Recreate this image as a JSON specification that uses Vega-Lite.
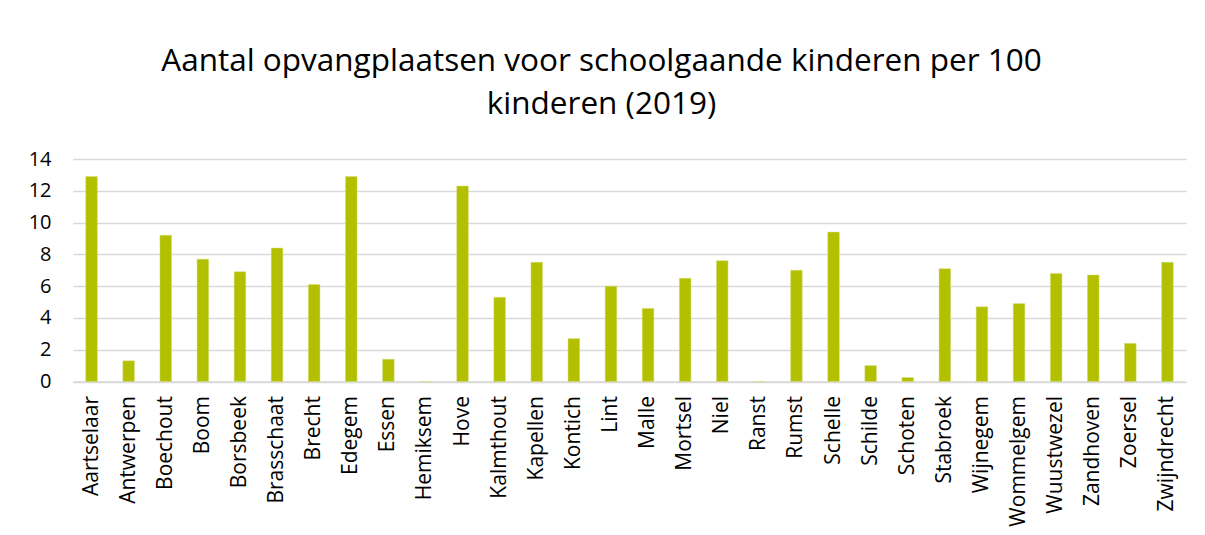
{
  "$schema": "https://vega.github.io/schema/vega-lite/v6.json",
  "autosize": {"type": "none"},
  "padding": {"left": 73, "top": 159, "right": 19, "bottom": 153.5},
  "width": 1113,
  "height": 222.5,
  "background": "white",
  "title": {
    "text": ["Aantal opvangplaatsen voor schoolgaande kinderen per 100", "kinderen (2019)"],
    "font": "Open Sans",
    "fontSize": 31.5,
    "fontWeight": "normal",
    "color": "#000000",
    "lineHeight": 43,
    "anchor": "middle",
    "dx": -28,
    "offset": 29
  },
  "data": {
    "values": [
      {"gemeente": "Aartselaar", "waarde": 12.9},
      {"gemeente": "Antwerpen", "waarde": 1.3},
      {"gemeente": "Boechout", "waarde": 9.2},
      {"gemeente": "Boom", "waarde": 7.7},
      {"gemeente": "Borsbeek", "waarde": 6.9},
      {"gemeente": "Brasschaat", "waarde": 8.4},
      {"gemeente": "Brecht", "waarde": 6.1},
      {"gemeente": "Edegem", "waarde": 12.9},
      {"gemeente": "Essen", "waarde": 1.4},
      {"gemeente": "Hemiksem", "waarde": 0},
      {"gemeente": "Hove", "waarde": 12.3},
      {"gemeente": "Kalmthout", "waarde": 5.3},
      {"gemeente": "Kapellen", "waarde": 7.5},
      {"gemeente": "Kontich", "waarde": 2.7},
      {"gemeente": "Lint", "waarde": 6.0},
      {"gemeente": "Malle", "waarde": 4.6},
      {"gemeente": "Mortsel", "waarde": 6.5},
      {"gemeente": "Niel", "waarde": 7.6},
      {"gemeente": "Ranst", "waarde": 0},
      {"gemeente": "Rumst", "waarde": 7.0},
      {"gemeente": "Schelle", "waarde": 9.4},
      {"gemeente": "Schilde", "waarde": 1.0},
      {"gemeente": "Schoten", "waarde": 0.25},
      {"gemeente": "Stabroek", "waarde": 7.1},
      {"gemeente": "Wijnegem", "waarde": 4.7},
      {"gemeente": "Wommelgem", "waarde": 4.9},
      {"gemeente": "Wuustwezel", "waarde": 6.8},
      {"gemeente": "Zandhoven", "waarde": 6.7},
      {"gemeente": "Zoersel", "waarde": 2.4},
      {"gemeente": "Zwijndrecht", "waarde": 7.5}
    ]
  },
  "mark": {"type": "bar", "color": "#b3c000", "stroke": "#d4de7a", "strokeWidth": 0.5},
  "encoding": {
    "x": {
      "field": "gemeente",
      "type": "nominal",
      "sort": null,
      "scale": {"paddingInner": 0.687, "paddingOuter": 0.3435},
      "axis": {
        "title": null,
        "labelAngle": -90,
        "labelFont": "Open Sans",
        "labelFontSize": 21,
        "labelColor": "#000000",
        "labelPadding": 14,
        "ticks": false,
        "domain": true,
        "domainColor": "#d9d9d9",
        "domainWidth": 1.5,
        "grid": false
      }
    },
    "y": {
      "field": "waarde",
      "type": "quantitative",
      "scale": {"domain": [0, 14], "nice": false},
      "axis": {
        "title": null,
        "values": [0, 2, 4, 6, 8, 10, 12, 14],
        "labelFont": "Open Sans",
        "labelFontSize": 20,
        "labelColor": "#000000",
        "labelPadding": 22,
        "ticks": false,
        "domain": false,
        "grid": true,
        "gridColor": "#d9d9d9",
        "gridWidth": 1.5
      }
    }
  },
  "config": {"view": {"stroke": null}}
}
